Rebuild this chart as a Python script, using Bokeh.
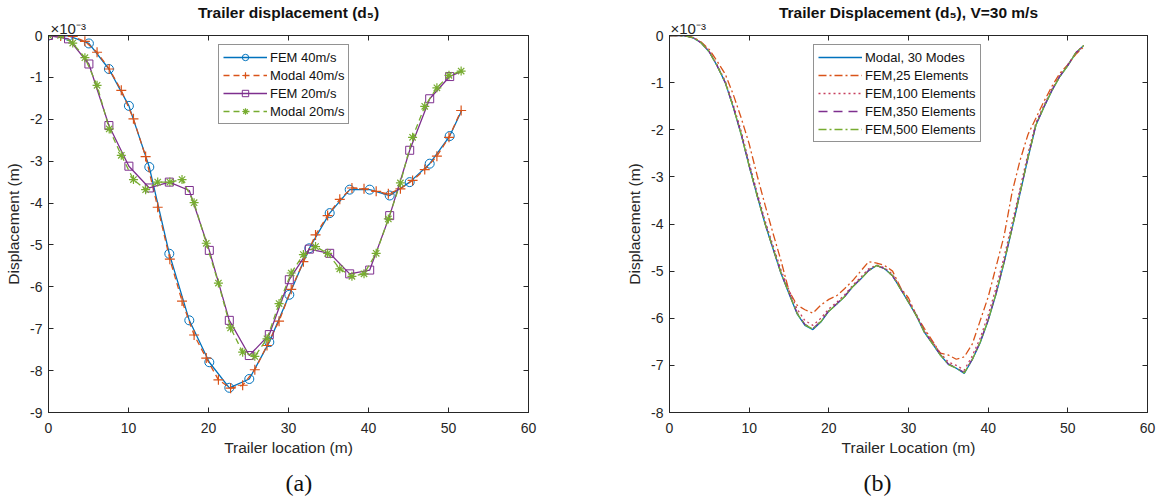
from bokeh.plotting import figure
from bokeh.models import Range1d, FixedTicker, LinearAxis, Legend, LegendItem, Title
from bokeh.layouts import row
from bokeh.embed import file_html
from bokeh.resources import INLINE

# ---------------- data (displacement in units of 1e-3 m) ----------------
x_ticks = [0, 10, 20, 30, 40, 50, 60]
ya_ticks = [-9, -8, -7, -6, -5, -4, -3, -2, -1, 0]
yb_ticks = [-8, -7, -6, -5, -4, -3, -2, -1, 0]

# (a) FEM samples (last sample is the unmarked end of the curve)
fem_x = [0, 2.5, 5.05, 7.55, 10.05, 12.6, 15.1, 17.6, 20.1, 22.6, 25.1, 27.6,
         30.1, 32.6, 35.15, 37.65, 40.15, 42.65, 45.15, 47.65, 50.15, 51.65]
fem40_y = [0, -0.01, -0.19, -0.8, -1.68, -3.14, -5.21, -6.8, -7.8, -8.41, -8.2, -7.32,
           -6.19, -5.08, -4.24, -3.68, -3.68, -3.82, -3.5, -3.06, -2.4, -1.79]
fem20_y = [0, -0.08, -0.68, -2.15, -3.12, -3.64, -3.5, -3.7, -5.13, -6.8, -7.64, -7.14,
           -5.83, -5.1, -5.2, -5.69, -5.6, -4.3, -2.74, -1.51, -0.98, -0.85]

# (a) Modal samples
modal_x = [0, 1.52, 3.03, 4.55, 6.07, 7.59, 9.1, 10.62, 12.14, 13.65, 15.17, 16.69,
           18.2, 19.72, 21.24, 22.76, 24.27, 25.79, 27.31, 28.82, 30.34, 31.86, 33.38,
           34.89, 36.41, 37.93, 39.44, 40.96, 42.48, 43.99, 45.51, 47.03, 48.55, 50.06, 51.58]
modal40_y = [0, -0.01, -0.02, -0.14, -0.4, -0.8, -1.31, -1.99, -2.89, -4.1, -5.34, -6.34,
             -7.15, -7.7, -8.22, -8.42, -8.35, -7.98, -7.4, -6.82, -6.06, -5.4, -4.76,
             -4.3, -3.91, -3.64, -3.66, -3.72, -3.78, -3.66, -3.46, -3.2, -2.88, -2.43, -1.79]
modal20_y = [0, 0, -0.18, -0.53, -1.19, -2.23, -2.86, -3.44, -3.68, -3.5, -3.5, -3.44,
             -3.99, -4.96, -5.91, -6.98, -7.56, -7.66, -7.24, -6.4, -5.67, -5.23, -5.04,
             -5.2, -5.57, -5.75, -5.69, -5.2, -4.38, -3.52, -2.43, -1.69, -1.25, -0.95, -0.85]

# (b) V = 30 m/s
loc_b = [0, 1, 2, 3, 4, 5, 6, 7, 8, 9, 10, 11, 12, 13, 14, 15, 16, 17, 18, 19, 20,
         21, 22, 23, 24, 25, 26, 27, 28, 29, 30, 31, 32, 33, 34, 35, 36, 37, 38, 39, 40,
         41, 42, 43, 44, 45, 46, 47, 48, 49, 50, 51, 52]
modal30_y = [0, 0, -0.01, -0.05, -0.16, -0.35, -0.65, -1.0, -1.52, -2.1, -2.77, -3.4, -4.0,
             -4.53, -5.05, -5.48, -5.9, -6.15, -6.24, -6.08, -5.85, -5.7, -5.54, -5.33, -5.17,
             -4.99, -4.88, -4.95, -5.1, -5.38, -5.66, -5.95, -6.3, -6.54, -6.78, -6.98, -7.06,
             -7.17, -6.88, -6.52, -6.05, -5.48, -4.82, -4.1, -3.35, -2.6, -1.9, -1.52, -1.17,
             -0.87, -0.64, -0.37, -0.21]
fem25_y = [0, 0, -0.01, -0.04, -0.14, -0.3, -0.55, -0.82, -1.25, -1.75, -2.3, -2.97, -3.6,
           -4.2, -4.78, -5.42, -5.72, -5.82, -5.89, -5.72, -5.6, -5.52, -5.37, -5.2, -5.0,
           -4.8, -4.83, -4.88, -5.0, -5.35, -5.57, -5.95, -6.22, -6.48, -6.74, -6.78, -6.87,
           -6.82, -6.55, -6.05, -5.55, -4.9, -4.25, -3.33, -2.65, -2.1, -1.75, -1.4, -1.08,
           -0.8, -0.62, -0.4, -0.24]
fem100_y = [0, 0, -0.01, -0.05, -0.15, -0.34, -0.63, -0.97, -1.47, -2.03, -2.7, -3.33, -3.93,
            -4.46, -4.98, -5.4, -5.8, -6.05, -6.15, -6.0, -5.8, -5.66, -5.5, -5.3, -5.13,
            -4.95, -4.87, -4.93, -5.07, -5.36, -5.63, -5.92, -6.26, -6.5, -6.74, -6.93, -7.0,
            -7.1, -6.8, -6.42, -5.93, -5.35, -4.7, -3.98, -3.25, -2.5, -1.85, -1.48, -1.14,
            -0.85, -0.62, -0.36, -0.21]
fem350_y = [0, 0, -0.01, -0.05, -0.16, -0.35, -0.65, -1.0, -1.51, -2.09, -2.76, -3.39, -3.99,
            -4.52, -5.04, -5.46, -5.88, -6.13, -6.22, -6.06, -5.84, -5.69, -5.53, -5.32, -5.16,
            -4.98, -4.88, -4.95, -5.1, -5.37, -5.65, -5.94, -6.29, -6.53, -6.77, -6.97, -7.05,
            -7.15, -6.87, -6.5, -6.03, -5.46, -4.8, -4.08, -3.33, -2.58, -1.89, -1.51, -1.16,
            -0.86, -0.63, -0.37, -0.21]
fem500_y = [0, 0, -0.01, -0.05, -0.16, -0.35, -0.65, -1.0, -1.52, -2.1, -2.77, -3.4, -4.0,
            -4.52, -5.04, -5.47, -5.89, -6.14, -6.23, -6.07, -5.85, -5.7, -5.54, -5.33, -5.17,
            -4.99, -4.88, -4.95, -5.1, -5.38, -5.66, -5.95, -6.3, -6.54, -6.78, -6.98, -7.06,
            -7.16, -6.88, -6.51, -6.04, -5.47, -4.81, -4.09, -3.34, -2.59, -1.9, -1.52, -1.17,
            -0.87, -0.64, -0.37, -0.21]

# ---------------- styling ----------------
FONT = "Liberation Sans"
AX = "#262626"
BLUE, ORANGE, PURPLE, GREEN, DARKRED = "#0072BD", "#D95319", "#7E2F8E", "#77AC30", "#C8405E"
LW = 1.3
FH = 377


def style_axis(ax, ticks, show_labels, standoff):
    ax.ticker = FixedTicker(ticks=ticks)
    ax.major_label_overrides = {t: str(t) for t in ticks}
    ax.major_tick_in = 5
    ax.major_tick_out = 0
    ax.minor_tick_line_color = None
    ax.axis_line_color = AX
    ax.major_tick_line_color = AX
    ax.major_label_text_font = FONT
    if show_labels:
        ax.major_label_text_color = AX
        ax.major_label_text_font_size = "14px"
    else:
        ax.major_label_text_color = None
        ax.major_label_text_font_size = "1px"
    ax.major_label_standoff = standoff
    ax.axis_label_text_font = FONT
    ax.axis_label_text_font_size = "15.5px"
    ax.axis_label_text_font_style = "normal"
    ax.axis_label_text_color = AX


def make_fig(ymin, yticks, title, xlabel, bl, fw, br, exp_offset, cap, cap_offset):
    p = figure(frame_width=fw, frame_height=FH, x_range=Range1d(0, 60), y_range=Range1d(ymin, 0),
               output_backend="svg", toolbar_location=None,
               min_border_left=bl, min_border_right=br, min_border_top=35, min_border_bottom=92,
               title=title)
    p.xgrid.visible = False
    p.ygrid.visible = False
    p.outline_line_color = AX
    p.background_fill_color = "white"
    p.border_fill_color = "white"
    p.title.align = "center"
    p.title.text_font = FONT
    p.title.text_font_size = "15.5px"
    p.title.text_font_style = "bold"
    p.title.text_color = "#111111"
    p.title.standoff = -2
    style_axis(p.xaxis[0], x_ticks, True, 10)
    style_axis(p.yaxis[0], yticks, True, 6)
    p.xaxis[0].axis_label = xlabel
    p.xaxis[0].axis_label_standoff = 3
    p.yaxis[0].axis_label = "Displacement (m)"
    p.yaxis[0].axis_label_standoff = 5
    top = LinearAxis()
    style_axis(top, x_ticks, False, 0)
    p.add_layout(top, "above")
    right = LinearAxis()
    style_axis(right, yticks, False, 0)
    p.add_layout(right, "right")
    # exponent marker above the frame, left aligned
    p.add_layout(Title(text="×10⁻³", align="left", offset=exp_offset, standoff=-3,
                       text_font=FONT, text_font_size="15px", text_font_style="normal",
                       text_color=AX), "above")
    # sub-figure caption
    p.add_layout(Title(text=cap, align="left", offset=cap_offset, standoff=19,
                       text_font="Liberation Serif", text_font_size="24px", text_font_style="normal",
                       text_color="#111111"), "below")
    return p


def legend_style(lg):
    lg.border_line_color = AX
    lg.border_line_width = 1
    lg.background_fill_alpha = 1
    lg.label_text_font = FONT
    lg.label_text_font_size = "13px"
    lg.label_text_color = "#111111"
    lg.glyph_width = 44
    lg.glyph_height = 16
    lg.label_height = 16
    lg.spacing = 2
    lg.padding = 4
    lg.margin = 0
    lg.label_standoff = 3


# ---------------- (a) ----------------
pa = make_fig(-9, ya_ticks, "Trailer displacement (d₅)", "Trailer location (m)", 48, 480, 50,
              2, "(a)", 237)

l1 = pa.line(fem_x, fem40_y, line_color=BLUE, line_width=LW)
m1 = pa.scatter(fem_x[:-1], fem40_y[:-1], marker="circle", size=9, fill_color=None,
                line_color=BLUE, line_width=1)
l2 = pa.line(modal_x, modal40_y, line_color=ORANGE, line_width=LW, line_dash="6 4")
m2 = pa.scatter(modal_x, modal40_y, marker="cross", size=10, line_color=ORANGE, line_width=1.2)
l3 = pa.line(fem_x, fem20_y, line_color=PURPLE, line_width=LW)
m3 = pa.scatter(fem_x[:-1], fem20_y[:-1], marker="square", size=8, fill_color=None,
                line_color=PURPLE, line_width=1)
l4 = pa.line(modal_x, modal20_y, line_color=GREEN, line_width=LW, line_dash="6 4")
m4 = pa.scatter(modal_x, modal20_y, marker="asterisk", size=9, line_color=GREEN, line_width=1.2)

lga = Legend(items=[LegendItem(label="FEM 40m/s", renderers=[l1, m1]),
                    LegendItem(label="Modal 40m/s", renderers=[l2, m2]),
                    LegendItem(label="FEM 20m/s", renderers=[l3, m3]),
                    LegendItem(label="Modal 20m/s", renderers=[l4, m4])],
             location=(170, 288))
legend_style(lga)
pa.add_layout(lga)

# ---------------- (b) ----------------
pb = make_fig(-8, yb_ticks, "Trailer Displacement (d₅), V=30 m/s", "Trailer Location (m)",
              91, 478, 9, 1, "(b)", 194)

r1 = pb.line(loc_b, modal30_y, line_color=BLUE, line_width=LW)
r2 = pb.line(loc_b, fem25_y, line_color=ORANGE, line_width=LW, line_dash="8 3 2 3")
r3 = pb.line(loc_b, fem100_y, line_color=DARKRED, line_width=LW, line_dash="2 3")
r4 = pb.line(loc_b, fem350_y, line_color=PURPLE, line_width=LW, line_dash="9 6")
r5 = pb.line(loc_b, fem500_y, line_color=GREEN, line_width=LW, line_dash="8 3 2 3")

lgb = Legend(items=[LegendItem(label="Modal, 30 Modes", renderers=[r1]),
                    LegendItem(label="FEM,25 Elements", renderers=[r2]),
                    LegendItem(label="FEM,100 Elements", renderers=[r3]),
                    LegendItem(label="FEM,350 Elements", renderers=[r4]),
                    LegendItem(label="FEM,500 Elements", renderers=[r5])],
             location=(144, 270))
legend_style(lgb)
pb.add_layout(lgb)

layout = row(pa, pb)
open("out.html", "w").write(file_html(layout, INLINE))
